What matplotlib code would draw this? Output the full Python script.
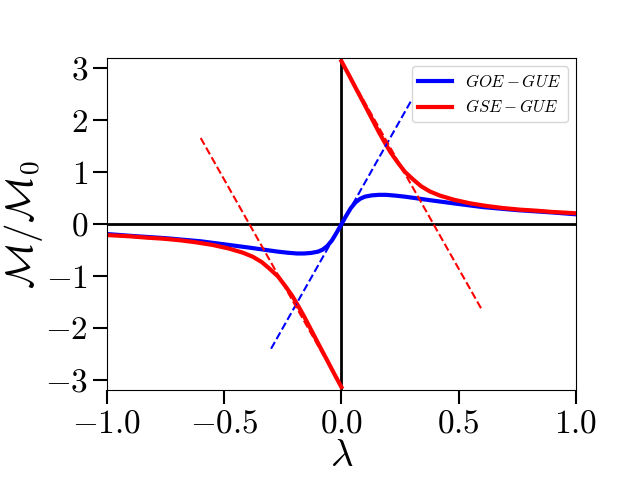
import numpy as np
import matplotlib
matplotlib.use("Agg")
import matplotlib.pyplot as plt

plt.rcParams['mathtext.fontset'] = 'cm'
plt.rcParams['font.family'] = 'serif'
plt.rcParams['font.serif'] = ['cmr10']
plt.rcParams['axes.formatter.use_mathtext'] = True

# GOE - GUE (odd in lambda)
lam_goe = [-1.0, -0.9, -0.75, -0.6, -0.48, -0.38, -0.31, -0.27, -0.23, -0.19, -0.16, -0.13,
           -0.1, -0.08, -0.06, -0.04, -0.02, 0.0, 0.02, 0.04, 0.06, 0.08, 0.1, 0.13,
           0.16, 0.19, 0.23, 0.27, 0.31, 0.38, 0.48, 0.6, 0.75, 0.9, 1.0]
m_goe = [-0.19, -0.225, -0.27, -0.33, -0.40, -0.46, -0.505, -0.53, -0.55, -0.565, -0.565, -0.555,
         -0.53, -0.49, -0.42, -0.31, -0.16, 0.0, 0.16, 0.31, 0.42, 0.49, 0.53, 0.555,
         0.565, 0.565, 0.55, 0.53, 0.505, 0.46, 0.40, 0.33, 0.27, 0.225, 0.19]

# GSE - GUE, jumps from -pi to +pi at lambda = 0
lam_gse_neg = [-1.0, -0.9, -0.83, -0.76, -0.69, -0.62, -0.55, -0.48, -0.42, -0.377, -0.34,
               -0.306, -0.27, -0.235, -0.21, -0.185, -0.16, -0.13, -0.093, -0.06, -0.03, 0.0]
m_gse_neg = [-0.21, -0.235, -0.26, -0.28, -0.31, -0.35, -0.40, -0.47, -0.55, -0.63, -0.73,
             -0.86, -1.01, -1.22, -1.38, -1.57, -1.77, -2.03, -2.35, -2.63, -2.89, -3.14]
lam_gse_pos = [0.0, 0.03, 0.06, 0.093, 0.13, 0.16, 0.185, 0.21, 0.235, 0.27, 0.306,
               0.34, 0.377, 0.42, 0.48, 0.55, 0.62, 0.69, 0.76, 0.83, 0.9, 1.0]
m_gse_pos = [3.14, 2.89, 2.63, 2.35, 2.03, 1.77, 1.57, 1.38, 1.22, 1.01, 0.86,
             0.73, 0.63, 0.55, 0.47, 0.40, 0.35, 0.31, 0.28, 0.26, 0.235, 0.21]

# small-lambda asymptotes
lam_goe_lin = [-0.3, 0.3]
m_goe_lin = [-2.4, 2.4]
lam_gse_lin_neg = [-0.6, 0.0]
m_gse_lin_neg = [1.66, -3.14]
lam_gse_lin_pos = [0.0, 0.6]
m_gse_lin_pos = [3.14, -1.66]

fig, ax = plt.subplots(figsize=(6.4, 4.8), dpi=100)
fig.subplots_adjust(left=0.167, right=0.9, bottom=0.187, top=0.879)

ax.axhline(0, color='k', lw=2)
ax.axvline(0, color='k', lw=2)

ax.plot(lam_goe, m_goe, color='blue', lw=3, label=r'$GOE-GUE$')
ax.plot(lam_gse_neg, m_gse_neg, color='red', lw=3, label=r'$GSE-GUE$')
ax.plot(lam_gse_pos, m_gse_pos, color='red', lw=3)

ax.plot(lam_goe_lin, m_goe_lin, '--', color='blue', lw=1.5)
ax.plot(lam_gse_lin_neg, m_gse_lin_neg, '--', color='red', lw=1.5)
ax.plot(lam_gse_lin_pos, m_gse_lin_pos, '--', color='red', lw=1.5)

ax.set_xlim(-1, 1)
ax.set_ylim(-3.2, 3.2)
ax.set_xticks([-1.0, -0.5, 0.0, 0.5, 1.0])
ax.set_yticks([-3, -2, -1, 0, 1, 2, 3])
ax.tick_params(labelsize=24, length=10, width=1.5)
ax.set_xlabel(r'$\lambda$', fontsize=28, labelpad=0)
ax.set_ylabel(r'$\mathcal{M}/\mathcal{M}_0$', fontsize=28, labelpad=0)
ax.legend(loc='upper right', fontsize=12)

fig.savefig('out.png', dpi=100)
